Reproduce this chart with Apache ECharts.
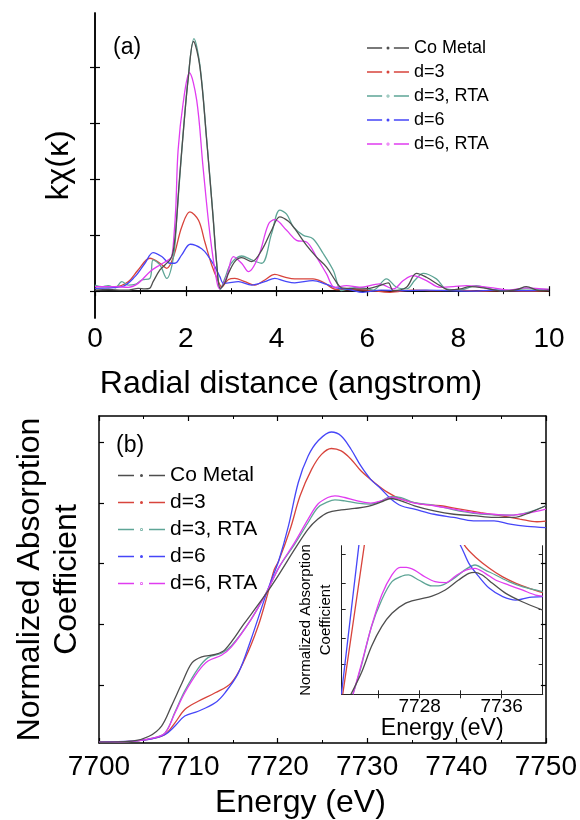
<!DOCTYPE html>
<html>
<head>
<meta charset="utf-8">
<script src="https://cdn.jsdelivr.net/npm/echarts@6/dist/echarts.min.js"></script>
<style>
  html, body { margin: 0; background: #fff; }
  #chart { width: 580px; height: 820px; }
</style>
</head>
<body>
<div id="chart"></div>
<script>
// series names, in legend order
const names = ['Co Metal', 'd=3', 'd=3, RTA', 'd=6', 'd=6, RTA']
const colors = ['#4e4e4e', '#d8443c', '#5ea596', '#4646f8', '#e03cf0']

// (a) Fourier transform, [R (angstrom), k chi(k)]
const coMetalR = [[0,0.02],[0.3,0.03],[0.6,0.02],[0.75,0.02],[0.95,0.05],[1.1,0.04],[1.2,0.05],[1.28,0.17],[1.43,0.38],[1.54,0.47],[1.66,0.57],[1.72,0.7],[1.78,1.1],[1.85,1.9],[1.95,2.9],[2.05,3.78],[2.17,4.47],[2.31,4.02],[2.46,2.7],[2.6,1.33],[2.68,0.5],[2.76,0.05],[2.86,0.15],[2.94,0.32],[3.08,0.53],[3.23,0.6],[3.45,0.53],[3.67,0.73],[3.89,1.09],[4.07,1.33],[4.26,1.25],[4.4,1.12],[4.66,0.82],[4.88,0.61],[5.1,0.43],[5.32,0.16],[5.43,0.06],[5.6,0.05],[5.83,0.04],[6.05,0.05],[6.27,0.1],[6.46,0.15],[6.57,0.01],[6.86,0.07],[7.08,0.32],[7.3,0.25],[7.6,0.1],[7.81,0.02],[8.05,0.04],[8.25,0.08],[8.55,0.06],[8.99,0],[9.3,0.03],[9.5,0.08],[9.79,0.01],[10,0.02]]
const d3R = [[0,0.08],[0.44,0.08],[0.73,0.17],[0.95,0.38],[1.21,0.59],[1.43,0.5],[1.58,0.41],[1.73,0.62],[1.91,1.15],[2.09,1.42],[2.28,1.27],[2.42,0.88],[2.57,0.47],[2.72,0.17],[2.79,0.08],[2.94,0.21],[3.08,0.23],[3.3,0.17],[3.52,0.11],[3.74,0.2],[3.96,0.3],[4.18,0.25],[4.4,0.22],[4.8,0.22],[5.03,0.16],[5.32,0.03],[5.6,0.03],[6,0.02],[6.5,-0.02],[7,0.02],[7.5,0.01],[8,0.02],[8.5,0],[9,0.01],[9.5,0],[10,0.01]]
const d3rtaR = [[0,0.11],[0.15,0.08],[0.29,0.1],[0.45,0.06],[0.59,0.17],[0.73,0.11],[0.88,0.12],[1.03,0.2],[1.21,0.23],[1.28,0.56],[1.43,0.47],[1.58,0.23],[1.73,0.62],[1.8,1.3],[1.91,2.5],[2.05,3.8],[2.18,4.52],[2.31,4.05],[2.46,2.72],[2.6,1.35],[2.68,0.5],[2.76,0.03],[2.86,0.23],[3,0.5],[3.23,0.63],[3.45,0.56],[3.67,0.5],[3.89,1.03],[4.07,1.45],[4.22,1.38],[4.37,1.15],[4.59,1],[4.8,0.94],[5.03,0.67],[5.25,0.37],[5.43,0.01],[5.6,0.05],[5.83,0.07],[6.13,0.02],[6.42,0.22],[6.64,0.07],[6.86,0.04],[7.05,0.2],[7.23,0.32],[7.52,0.22],[7.74,0.04],[8.03,0.02],[8.4,0.1],[8.69,0.04],[8.99,0.01],[9.5,0.04],[10,0.03]]
const d6R = [[0,0.05],[0.59,0.08],[0.88,0.26],[1.1,0.5],[1.28,0.69],[1.47,0.62],[1.65,0.5],[1.76,0.5],[1.91,0.65],[2.1,0.84],[2.35,0.76],[2.5,0.62],[2.64,0.44],[2.75,0.26],[2.83,0.14],[2.94,0.15],[3.16,0.17],[3.45,0.11],[3.74,0.17],[3.96,0.23],[4.18,0.18],[4.4,0.15],[4.8,0.19],[5.1,0.12],[5.32,0.06],[5.6,0.03],[5.9,-0.02],[6.3,0.02],[6.8,0.01],[7.3,0.02],[7.8,0.01],[8.3,0],[8.8,0.02],[9.3,0.01],[10,0.02]]
const d6rtaR = [[0,0.08],[0.44,0.08],[0.73,0.07],[0.95,0.14],[1.21,0.35],[1.43,0.47],[1.62,0.56],[1.69,0.62],[1.74,1.0],[1.78,1.5],[1.83,2.52],[1.94,3.36],[2.08,3.91],[2.24,3.42],[2.38,2.22],[2.53,1.03],[2.68,0.19],[2.75,0.04],[2.9,0.26],[3.05,0.62],[3.23,0.5],[3.38,0.35],[3.6,0.62],[3.82,1.2],[3.96,1.28],[4.22,1.09],[4.44,0.91],[4.66,0.88],[4.88,0.61],[5.1,0.31],[5.28,0.07],[5.54,0.1],[5.83,0.07],[6.27,0.13],[6.57,0.04],[6.79,0.19],[7,0.28],[7.3,0.19],[7.6,0.07],[7.89,0.08],[8.18,0.1],[8.77,0.06],[9.13,0.02],[9.5,0.06],[10,0.03]]

// (b) XANES, [energy (eV), normalized absorption]
const coMetalE = [[7700,0.014],[7703.7,0.018],[7705.6,0.038],[7707,0.08],[7708.1,0.162],[7709.3,0.258],[7710.4,0.34],[7711.5,0.365],[7713,0.375],[7714.1,0.395],[7716.3,0.505],[7718.5,0.615],[7720,0.697],[7721.9,0.809],[7723.4,0.892],[7724.5,0.933],[7725.6,0.96],[7727.1,0.971],[7728.6,0.977],[7730.1,0.985],[7731.6,1.004],[7732.7,1.018],[7733.8,1.008],[7735.3,0.988],[7737.5,0.967],[7739.7,0.953],[7741.9,0.947],[7744.2,0.94],[7746.4,0.94],[7748.2,0.96],[7750,0.988]]
const d3E = [[7700,0.014],[7704,0.018],[7706,0.028],[7707.4,0.045],[7708.5,0.093],[7709.6,0.148],[7711.1,0.182],[7713,0.217],[7714.8,0.258],[7716.3,0.354],[7717.8,0.491],[7718.9,0.628],[7719.6,0.724],[7720.1,0.76],[7721.4,0.892],[7722.5,1.029],[7723.8,1.139],[7724.9,1.2],[7726,1.224],[7727.1,1.214],[7728.2,1.18],[7729.3,1.132],[7730.8,1.084],[7732.3,1.043],[7733.8,1.015],[7736,0.995],[7738.2,0.988],[7740.4,0.974],[7742.7,0.96],[7744.9,0.947],[7747.1,0.933],[7749,0.922],[7750,0.925]]
const d3rtaE = [[7700,0.014],[7704,0.018],[7706,0.03],[7707.4,0.052],[7708.5,0.138],[7709.6,0.225],[7711.1,0.318],[7712.2,0.362],[7713.7,0.38],[7714.8,0.41],[7717,0.519],[7718.7,0.628],[7720.2,0.738],[7721.9,0.83],[7723.4,0.919],[7724.5,0.981],[7725.6,1.004],[7726.4,1.012],[7727.5,1.008],[7728.9,0.999],[7730.4,0.995],[7731.6,1.008],[7732.7,1.026],[7733.8,1.022],[7735.3,1.001],[7737.5,0.99],[7739.7,0.971],[7741.9,0.957],[7744.2,0.951],[7746,0.949],[7747.9,0.96],[7750,0.988]]
const d6E = [[7700,0.014],[7703.7,0.018],[7705.9,0.027],[7707.4,0.045],[7708.5,0.08],[7709.6,0.121],[7711.1,0.141],[7713,0.176],[7714.1,0.217],[7715.6,0.299],[7717,0.436],[7718.5,0.601],[7719.3,0.683],[7720.1,0.76],[7721.2,0.905],[7722.3,1.084],[7723.4,1.193],[7724.5,1.255],[7726,1.292],[7727.1,1.276],[7728.2,1.221],[7729.3,1.152],[7730.4,1.097],[7731.6,1.056],[7732.7,1.015],[7733.8,0.988],[7735.3,0.974],[7737.5,0.953],[7739.7,0.94],[7741.9,0.926],[7744.2,0.926],[7746,0.912],[7747.9,0.903],[7750,0.898]]
const d6rtaE = [[7700,0.014],[7704,0.018],[7706,0.03],[7707.4,0.052],[7708.5,0.134],[7709.6,0.217],[7711.1,0.305],[7712.2,0.348],[7713.7,0.372],[7714.8,0.405],[7717,0.519],[7718.7,0.628],[7720.2,0.738],[7721.9,0.837],[7723.4,0.933],[7724.5,0.995],[7725.6,1.022],[7726.4,1.029],[7727.5,1.022],[7728.9,1.008],[7730.4,0.999],[7731.6,1.008],[7732.7,1.022],[7733.8,1.015],[7735.3,0.999],[7737.5,0.988],[7739.7,0.974],[7741.9,0.96],[7744.2,0.953],[7746,0.949],[7747.9,0.957],[7750,0.974]]

// inset, zoomed near-edge region (own scale, 0..1)
const coMetalI = [[7721.3,0],[7722.3,0.141],[7723.3,0.321],[7724.3,0.455],[7725.3,0.545],[7726.6,0.612],[7727.9,0.639],[7729.2,0.661],[7730.5,0.702],[7731.8,0.769],[7732.8,0.814],[7733.4,0.821],[7734.1,0.803],[7735.1,0.747],[7736.4,0.679],[7738,0.623],[7740,0.567]]
const d3I = [[7720.5,0],[7722.6,1.0],[7723.0,1.2],[7730,1.3],[7732.4,1.0],[7733.4,0.926],[7734.8,0.848],[7736.1,0.79],[7737.4,0.747],[7738.7,0.713],[7740,0.684]]
const d3rtaI = [[7721.5,0],[7722.3,0.186],[7723.3,0.455],[7724.3,0.635],[7725.3,0.758],[7726.3,0.796],[7726.9,0.803],[7727.9,0.769],[7729.2,0.729],[7730.2,0.735],[7731.2,0.773],[7732.5,0.841],[7733.4,0.87],[7734.4,0.836],[7735.4,0.803],[7736.7,0.758],[7738,0.724],[7739.3,0.702],[7740,0.691]]
const d6I = [[7720.37,0],[7722.07,1.0],[7722.6,1.3],[7729.5,1.3],[7732,1.0],[7732.8,0.881],[7733.8,0.79],[7734.8,0.713],[7736.1,0.657],[7737.4,0.634],[7738.7,0.652],[7740,0.657]]
const d6rtaI = [[7721.5,0],[7722.3,0.197],[7723.3,0.455],[7724.3,0.668],[7725.3,0.803],[7726.1,0.854],[7726.7,0.854],[7727.5,0.836],[7728.5,0.791],[7729.5,0.758],[7730.5,0.751],[7731.5,0.796],[7732.5,0.836],[7733.4,0.848],[7734.4,0.814],[7735.4,0.769],[7736.7,0.735],[7738,0.702],[7739.3,0.668],[7740,0.661]]

// tick labels
const radialTicks = [0, 2, 4, 6, 8, 10]
const energyTicks = [7700, 7710, 7720, 7730, 7740, 7750]
const insetLabels = [7728, 7736]

const panelA = [coMetalR, d3R, d3rtaR, d6R, d6rtaR]
const panelB = [coMetalE, d3E, d3rtaE, d6E, d6rtaE]
const panelInset = [coMetalI, d3I, d3rtaI, d6I, d6rtaI]
const hollow = [false, false, true, false, true]

const font = 'Liberation Sans, Arial, sans-serif'
const black = '#000'
const plain = v => String(v)

// legend sample: dash, dot (filled or open), dash
function legendIcon(w, open, frac) {
  const r = 1.5, c = w / 2, bar = w * frac
  let p = `M0,0.8H${bar}V2.2H0Z M${w - bar},0.8H${w}V2.2H${w - bar}Z ` +
    `M${c - r},1.5a${r},${r} 0 1,0 ${2 * r},0a${r},${r} 0 1,0 ${-2 * r},0Z`
  if (open) {
    const q = 0.8
    p += ` M${c - q},1.5a${q},${q} 0 1,1 ${2 * q},0a${q},${q} 0 1,1 ${-2 * q},0Z`
  }
  return 'path://' + p
}

function xAxis(grid, min, max, interval, opts) {
  return Object.assign({
    type: 'value', gridIndex: grid, min: min, max: max, interval: interval,
    axisLine: { lineStyle: { color: black, width: 1.5 } },
    axisTick: { inside: true, length: 5, lineStyle: { color: black, width: 1.2 } },
    minorTick: { show: true, splitNumber: 2, length: 3, lineStyle: { color: black } },
    splitLine: { show: false },
    axisLabel: { show: false }
  }, opts)
}

function yAxis(grid, min, max, ticks, opts) {
  return Object.assign({
    type: 'value', gridIndex: grid, min: min, max: max,
    axisLine: { show: true, lineStyle: { color: black, width: 1.5 } },
    axisTick: { inside: true, length: 5, customValues: ticks, lineStyle: { color: black, width: 1.2 } },
    splitLine: { show: false },
    axisLabel: { show: false }
  }, opts)
}

const aTicks = [0, 1, 2, 3, 4]
const bTicks = [0.25, 0.5, 0.75, 1.0, 1.25]
const iTicks = [0.2, 0.38, 0.57, 0.75, 0.94]

const series = []
names.forEach((name, i) => {
  const base = {
    name: name, type: 'line', showSymbol: false, symbol: 'none',
    color: colors[i], itemStyle: { color: colors[i] },
    lineStyle: { width: 1.3, color: colors[i] },
    z: i === 0 ? 4 : 3, animation: false
  }
  series.push(Object.assign({}, base, { xAxisIndex: 0, yAxisIndex: 0, smooth: 0.35, data: panelA[i] }))
  series.push(Object.assign({}, base, { xAxisIndex: 2, yAxisIndex: 2, smooth: 0.35, data: panelB[i] }))
  series.push(Object.assign({}, base, { xAxisIndex: 4, yAxisIndex: 4, smooth: 0.3, data: panelInset[i] }))
})

function legend(left, top, w, size, gap, frac) {
  return {
    orient: 'vertical', left: left, top: top,
    itemWidth: w, itemHeight: 3, itemGap: gap,
    selectedMode: false,
    textStyle: { fontFamily: font, fontSize: size, color: black },
    data: names.map((n, i) => ({
      name: n,
      icon: legendIcon(w, hollow[i], frac),
      itemStyle: { color: colors[i], borderWidth: 0 }
    }))
  }
}

const option = {
  animation: false,
  backgroundColor: '#fff',
  textStyle: { fontFamily: font },
  title: [
    { text: '(a)', left: 108, top: 31, textStyle: { fontFamily: font, fontSize: 23, fontWeight: 'normal', color: black } },
    { text: '(b)', left: 111, top: 429, textStyle: { fontFamily: font, fontSize: 23, fontWeight: 'normal', color: black } }
  ],
  legend: [
    legend(362, 34, 42, 18, 6, 0.36),
    legend(113, 460, 47, 21, 6, 0.34)
  ],
  grid: [
    { left: 95, top: 13, width: 454, height: 305 },
    { left: 99, top: 416, width: 450, height: 327.5 },
    { left: 341.7, top: 545.7, width: 201, height: 148.6, show: true, backgroundColor: '#fff', borderWidth: 0 }
  ],
  xAxis: [
    xAxis(0, radialTicks[0], radialTicks[radialTicks.length - 1], 2, {
      axisLabel: { show: true, fontSize: 28, color: black, margin: 7, fontFamily: font, formatter: plain },
      name: 'Radial distance (angstrom)', nameLocation: 'middle', nameGap: 50,
      nameTextStyle: { fontSize: 32, color: black, fontFamily: font, padding: [0, 62, 0, 0] }
    }),
    xAxis(0, radialTicks[0], radialTicks[radialTicks.length - 1], 2, { position: 'top' }),
    xAxis(1, energyTicks[0], energyTicks[energyTicks.length - 1], 10, {
      axisLabel: { show: true, fontSize: 28, color: black, margin: 10, fontFamily: font, formatter: plain },
      name: 'Energy (eV)', nameLocation: 'middle', nameGap: 44,
      nameTextStyle: { fontSize: 32, color: black, fontFamily: font, padding: [0, 44, 0, 0] }
    }),
    xAxis(1, energyTicks[0], energyTicks[energyTicks.length - 1], 10, { position: 'top' }),
    xAxis(2, 7720.4, 7740, null, {
      interval: undefined,
      minorTick: { show: false },
      axisLine: { lineStyle: { color: '#222', width: 1 } },
      axisTick: { inside: true, length: 4, customValues: [7724, 7728, 7732, 7736], lineStyle: { color: '#222' } },
      axisLabel: { show: true, fontSize: 19, color: black, margin: 3, fontFamily: font, customValues: insetLabels, formatter: plain },
      name: 'Energy (eV)', nameLocation: 'middle', nameGap: 23,
      nameTextStyle: { fontSize: 23, color: black, fontFamily: font }
    }),
    xAxis(2, 7720.4, 7740, null, {
      interval: undefined, position: 'top',
      minorTick: { show: false },
      axisLine: { lineStyle: { color: '#222', width: 1 } },
      axisTick: { inside: true, length: 4, customValues: [7724, 7728, 7732, 7736], lineStyle: { color: '#222' } }
    })
  ],
  yAxis: [
    yAxis(0, -0.48, 4.98, aTicks, {
      name: 'kχ(κ)', nameLocation: 'middle', nameRotate: 90, nameGap: 20,
      nameTextStyle: { fontSize: 32, color: black, fontFamily: font }
    }),
    yAxis(0, -0.48, 4.98, aTicks, { position: 'right' }),
    yAxis(1, 0.01, 1.358, bTicks, {
      name: 'Normalized Absorption\nCoefficient', nameLocation: 'middle', nameRotate: 90, nameGap: 13,
      nameTextStyle: { fontSize: 32, color: black, fontFamily: font, lineHeight: 37 }
    }),
    yAxis(1, 0.01, 1.358, bTicks, { position: 'right' }),
    yAxis(2, 0, 1, iTicks, {
      axisLine: { show: true, lineStyle: { color: '#222', width: 1 } },
      axisTick: { inside: true, length: 4, customValues: iTicks, lineStyle: { color: '#222' } },
      name: 'Normalized Absorption\nCoefficient', nameLocation: 'middle', nameRotate: 90, nameGap: 6,
      nameTextStyle: { fontSize: 15, color: black, fontFamily: font, lineHeight: 20 }
    }),
    yAxis(2, 0, 1, iTicks, {
      position: 'right',
      axisLine: { show: true, lineStyle: { color: '#222', width: 1 } },
      axisTick: { inside: true, length: 4, customValues: iTicks, lineStyle: { color: '#222' } }
    })
  ],
  series: series
}

const chart = echarts.init(document.getElementById('chart'), null, { renderer: 'canvas' })
chart.setOption(option)
</script>
</body>
</html>
